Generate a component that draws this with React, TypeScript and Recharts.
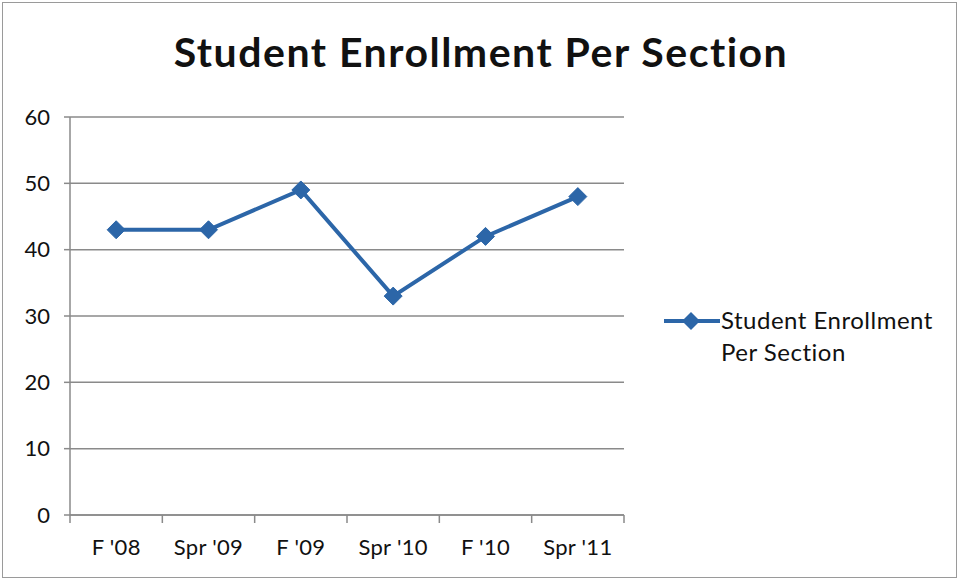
import React from 'react';
import { LineChart, Line, XAxis, YAxis, CartesianGrid } from 'recharts';

const terms = ["F '08", "Spr '09", "F '09", "Spr '10", "F '10", "Spr '11"];
const enrollment = [43, 43, 49, 33, 42, 48];
const yTicks = [0, 10, 20, 30, 40, 50, 60];

const seriesName = 'Student Enrollment Per Section';
const blue = '#2C66A8';
const grid = '#8a8a8a';
const font = 'Lato, "Open Sans", sans-serif';

const data = terms.map((term, i) => ({ term, value: enrollment[i] }));

const TICK_SIZE = 8;
const TICK_MARGIN = 16;
const PLOT_WIDTH = 554;

function Diamond(props: any) {
  const { cx, cy } = props;
  if (cx == null || cy == null) return null;
  const r = 9;
  return (
    <path
      d={`M${cx},${cy - r}L${cx + r},${cy}L${cx},${cy + r}L${cx - r},${cy}Z`}
      fill={blue}
      stroke={blue}
      strokeWidth={1}
    />
  );
}

// Excel-style ticks: marks sit between categories, labels in the middle
function TermTick(props: any) {
  const { x, y, payload, index } = props;
  const half = payload && payload.offset ? payload.offset : PLOT_WIDTH / terms.length / 2;
  const axisY = y - TICK_SIZE - TICK_MARGIN;
  return (
    <g>
      <line x1={x - half} y1={axisY} x2={x - half} y2={axisY + TICK_SIZE} stroke={grid} strokeWidth={1.5} />
      {index === terms.length - 1 && (
        <line x1={x + half} y1={axisY} x2={x + half} y2={axisY + TICK_SIZE} stroke={grid} strokeWidth={1.5} />
      )}
      <text x={x} y={y} dy="0.71em" textAnchor="middle" fontSize={22} letterSpacing={0.3} fill="#111" fontFamily={font}>
        {payload.value}
      </text>
    </g>
  );
}

function LegendBox() {
  return (
    <div style={{ position: 'absolute', left: 663, top: 306, display: 'flex', alignItems: 'flex-start', fontFamily: font }}>
      <svg width={58} height={30}>
        <line x1={1} y1={15} x2={57} y2={15} stroke={blue} strokeWidth={4} />
        <path d="M28,6L37,15L28,24L19,15Z" fill={blue} />
      </svg>
      <div style={{ fontSize: 24, letterSpacing: 0.5, lineHeight: '32px', color: '#111', marginTop: -2 }}>
        Student Enrollment
        <br />
        Per Section
      </div>
    </div>
  );
}

export default function App() {
  return (
    <div style={{ position: 'fixed', left: 0, top: 0, width: 960, height: 582, background: '#fff' }}>
      <div
        style={{
          position: 'absolute',
          left: 2,
          top: 2,
          width: 953,
          height: 574,
          border: '1.5px solid #9a9a9a',
        }}
      />
      <div
        style={{
          position: 'absolute',
          left: 0,
          top: 27,
          width: 962,
          textAlign: 'center',
          fontFamily: font,
          fontWeight: 700,
          fontSize: 41,
          letterSpacing: 1.5,
          color: '#111',
          lineHeight: '50px',
        }}
      >
        {seriesName}
      </div>
      <LineChart
        width={960}
        height={582}
        data={data}
        margin={{ top: 117, right: 336, bottom: 0, left: 20 }}
      >
        <CartesianGrid vertical={false} stroke={grid} strokeWidth={1.5} />
        <XAxis
          dataKey="term"
          scale="band"
          height={67}
          tickLine={false}
          tickSize={TICK_SIZE}
          tickMargin={TICK_MARGIN}
          stroke={grid}
          strokeWidth={1.5}
          tick={<TermTick />}
          interval={0}
        />
        <YAxis
          width={50}
          domain={[0, 60]}
          ticks={yTicks}
          interval={0}
          tickSize={6}
          tickMargin={14}
          stroke={grid}
          strokeWidth={1.5}
          tick={{ fontSize: 22, fill: '#111', fontFamily: font }}
        />
        <Line
          type="linear"
          dataKey="value"
          name={seriesName}
          stroke={blue}
          strokeWidth={4}
          dot={<Diamond />}
          activeDot={false}
          isAnimationActive={false}
        />
      </LineChart>
      <LegendBox />
    </div>
  );
}
